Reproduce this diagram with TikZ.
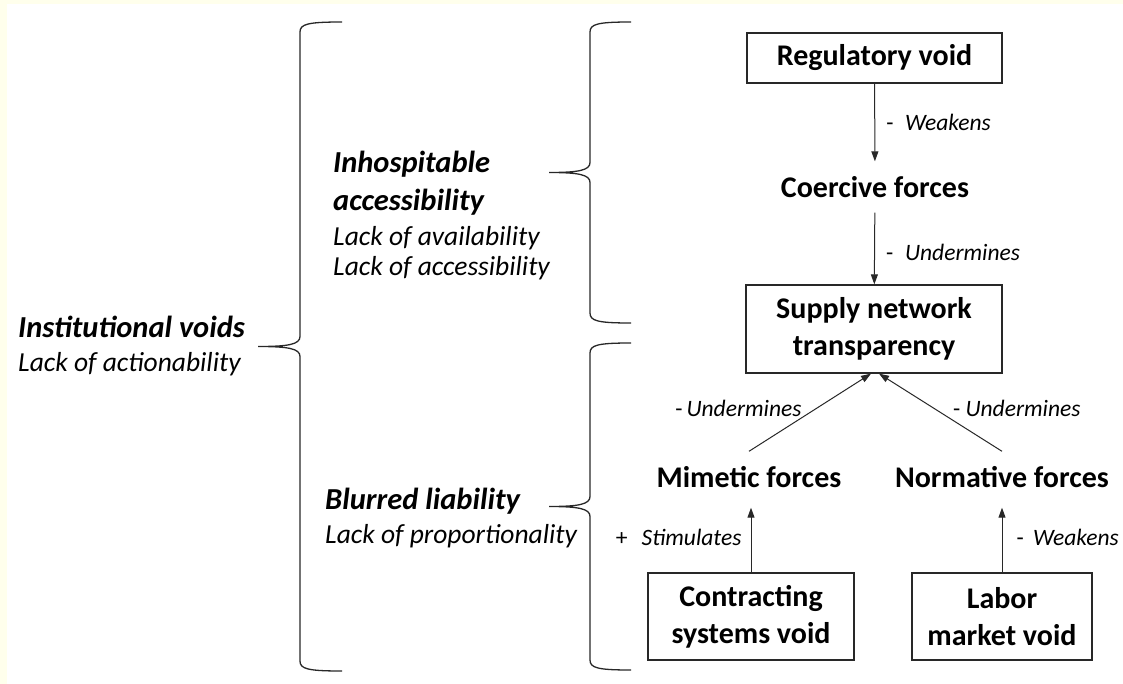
\documentclass[tikz,border=0pt]{standalone}
\usepackage{fontspec}
\setmainfont{Carlito}
\usetikzlibrary{arrows.meta}
\definecolor{cream}{RGB}{255,255,236}
\definecolor{ink}{RGB}{40,40,40}

\begin{document}
\begin{tikzpicture}[x=1pt, y=-1pt,
		box/.style={draw=ink, line width=1.3pt, inner sep=0pt, align=center, font=\bfseries\fontsize{30}{37}\selectfont},
		force/.style={inner sep=0pt, minimum height=51pt, font=\bfseries\fontsize{30}{37}\selectfont},
		head/.style={anchor=west, inner sep=0pt, align=left, font=\bfseries\itshape\fontsize{30.5}{38}\selectfont},
		lack/.style={anchor=west, inner sep=0pt, align=left, font=\itshape\fontsize{27.5}{30}\selectfont},
		effect/.style={inner sep=0pt, font=\fontsize{23.5}{28}\selectfont},
		link/.style={draw=ink, line width=1pt, -{Triangle[length=10pt,width=7pt]}},
		brace/.style={draw=ink, line width=1.3pt}]
			\fill [cream] (0,0) rectangle (1123,684);
			\fill [white] (7,4) rectangle (1123,684);
			\useasboundingbox (0,0) rectangle (1123,684);
			% the three braces
			\draw [brace] (342,22) .. controls (308,22) and (300,24) .. (300,32) -- (300,336.5) .. controls (300,344.5) and (288,346.5) .. (258,346.5) .. controls (288,346.5) and (300,348.5) .. (300,356.5) -- (300,661) .. controls (300,669) and (308,671) .. (342,671);
			\draw [brace] (631,22) .. controls (598,22) and (590,24) .. (590,32) -- (590,162.5) .. controls (590,170.5) and (578,172.5) .. (549,172.5) .. controls (578,172.5) and (590,174.5) .. (590,182.5) -- (590,313) .. controls (590,321) and (598,323) .. (631,323);
			\draw [brace] (631,343) .. controls (598,343) and (590,345) .. (590,353) -- (590,496.5) .. controls (590,504.5) and (578,506.5) .. (549,506.5) .. controls (578,506.5) and (590,508.5) .. (590,516.5) -- (590,660) .. controls (590,668) and (598,670) .. (631,670);
			% left side texts
			\node [head] (inst) at (18,326.5) {Institutional voids};
			\node [lack] (actn) at (18,364.5) {Lack of actionability};
			\node [head] (inhosp) at (333,183.5) {Inhospitable\\accessibility};
			\node [lack] (avail) at (333,253.5) {Lack of availability\\Lack of accessibility};
			\node [head] (blur) at (325,501.5) {Blurred liability};
			\node [lack] (prop) at (325,536.5) {Lack of proportionality};
			% the model
			\node [box, minimum width=255pt, minimum height=50pt] (reg) at (874.5,58) {Regulatory void};
			\node [force] (coer) at (875,187) {Coercive forces};
			\node [box, minimum width=256pt, minimum height=88pt] (supply) at (874,329) {Supply network\\transparency};
			\node [force] (mim) at (749,477) {Mimetic forces};
			\node [force] (norm) at (1002,477) {Normative forces};
			\node [box, minimum width=206pt, minimum height=87pt] (contr) at (751,616.5) {Contracting\\systems void};
			\node [box, minimum width=180pt, minimum height=87pt] (labor) at (1002,616.5) {Labor\\market void};
			\draw [link] (reg) -- (coer) node [effect, midway, anchor=west, xshift=11pt] {-\hspace{0.5em}\textit{Weakens}};
			\draw [link] (coer) -- (supply) node [effect, midway, anchor=west, xshift=11pt, yshift=-4pt] {-\hspace{0.5em}\textit{Undermines}};
			\draw [link] (mim.north) -- ([xshift=-3pt]supply.south) node [effect, midway, anchor=east, xshift=-8pt, yshift=4pt] {-\,\textit{Undermines}};
			\draw [link] (norm.north) -- ([xshift=5pt]supply.south) node [effect, midway, anchor=west, xshift=12pt, yshift=4pt] {- \textit{Undermines}};
			\draw [link, shorten >=5pt] (contr.north) -- (contr.north |- mim.south) node [effect, midway, anchor=east, xshift=-9pt] {+\hspace{0.6em}\textit{Stimulates}};
			\draw [link, shorten >=5pt] (labor) -- (norm) node [effect, midway, anchor=west, xshift=14pt] {-\hspace{0.4em}\textit{Weakens}};
		\end{tikzpicture}
\end{document}
